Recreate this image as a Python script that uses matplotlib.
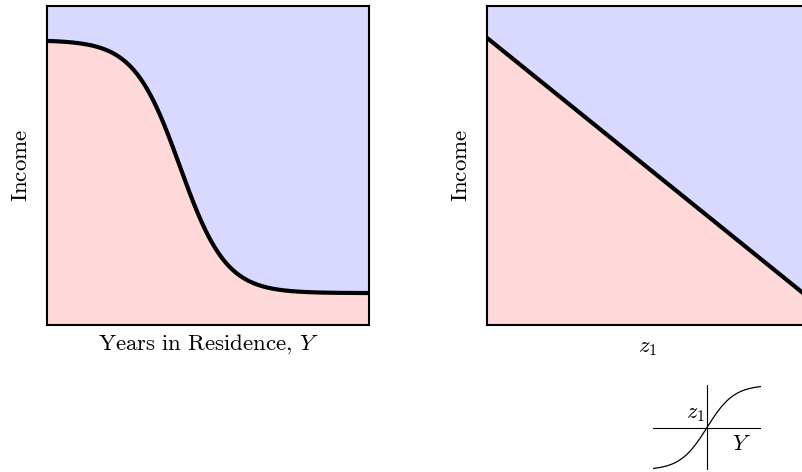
import numpy as np
import matplotlib
matplotlib.use("Agg")
import matplotlib.pyplot as plt

plt.rcParams['mathtext.fontset'] = 'cm'
plt.rcParams['font.family'] = 'serif'
plt.rcParams['font.serif'] = ['DejaVu Serif']

# decision boundary, left panel: income threshold vs years in residence (step-like)
y_high = 0.893      # threshold for newcomers
y_low = 0.100       # threshold for long-time residents
y_mid_x = 0.413     # where the drop is steepest
steepness = 7.0

# decision boundary, right panel: straight line in z1
line_x = [0.0, 1.0]
line_y = [0.90, 0.085]

# small sketch of the transform z1 = g(Y)
sketch_gain = 2.0

pink = '#ffd9d9'
blue = '#d9d9ff'

fig = plt.figure(figsize=(8.03, 4.72), dpi=100)

ax1 = fig.add_axes([47/803, 147/472, 322/803, 319/472])
ax2 = fig.add_axes([487/803, 147/472, 322/803, 319/472])

xs = np.linspace(0, 1, 400)
ys = (y_high + y_low)/2 - (y_high - y_low)/2*np.tanh(steepness*(xs - y_mid_x))

ax1.fill_between(xs, 0, ys, color=pink, lw=0)
ax1.fill_between(xs, ys, 1, color=blue, lw=0)
ax1.plot(xs, ys, color='black', lw=3, solid_capstyle='butt')

ax2.fill_between(line_x, 0, line_y, color=pink, lw=0)
ax2.fill_between(line_x, line_y, 1, color=blue, lw=0)
ax2.plot(line_x, line_y, color='black', lw=3, solid_capstyle='butt')

for ax in (ax1, ax2):
    ax.set_xlim(0, 1)
    ax.set_ylim(0, 1)
    ax.set_xticks([])
    ax.set_yticks([])
    for s in ax.spines.values():
        s.set_linewidth(1.5)
    ax.set_ylabel(r'$\mathrm{Income}$', fontsize=16.5, labelpad=11)

ax1.set_xlabel(r'$\mathrm{Years\ in\ Residence,}\,Y$', fontsize=16.5, labelpad=5)
ax2.set_xlabel(r'$z_1$', fontsize=16.5, labelpad=8)

# inset sketch
ax3 = fig.add_axes([653/803, 2/472, 108/803, 85/472])
ax3.set_xlim(-1, 1)
ax3.set_ylim(-1, 1)
ax3.axis('off')
ax3.axhline(0, color='black', lw=0.8)
ax3.axvline(0, color='black', lw=0.8)
sx = np.linspace(-1, 1, 200)
ax3.plot(sx, np.tanh(sketch_gain*sx), color='black', lw=0.9)
ax3.text(-0.03, 0.34, r'$z_1$', fontsize=16, ha='right', va='center')
ax3.text(0.63, -0.38, r'$Y$', fontsize=16, ha='center', va='center')

fig.savefig('out.png', dpi=100)
